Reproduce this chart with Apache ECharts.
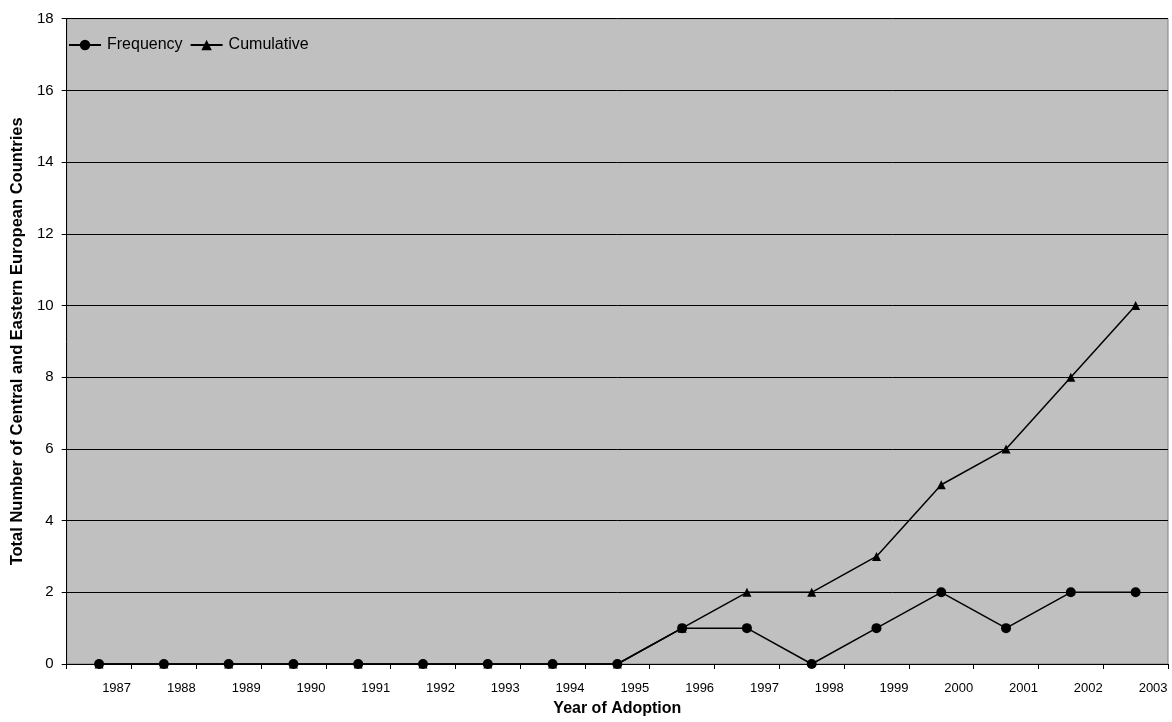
<!DOCTYPE html>
<html>
<head>
<meta charset="utf-8">
<script src="https://cdn.jsdelivr.net/npm/echarts@6/dist/echarts.min.js"></script>
<style>
  html, body { margin: 0; padding: 0; background: #ffffff; }
  #chart { width: 1172px; height: 722px; }
</style>
</head>
<body>
<div id="chart"></div>
<script>
// Adoption years
const years = ['1987', '1988', '1989', '1990', '1991', '1992', '1993', '1994', '1995',
               '1996', '1997', '1998', '1999', '2000', '2001', '2002', '2003'];
// Countries adopting in each year
const frequency = [0, 0, 0, 0, 0, 0, 0, 0, 0, 1, 1, 0, 1, 2, 1, 2, 2];
// Running total of adopting countries
const cumulative = [0, 0, 0, 0, 0, 0, 0, 0, 0, 1, 2, 2, 3, 5, 6, 8, 10];

const FONT = "'Liberation Sans', Arial, sans-serif";

const chart = echarts.init(document.getElementById('chart'), null, { renderer: 'canvas' });

chart.setOption({
  animation: false,
  backgroundColor: '#ffffff',
  textStyle: { fontFamily: FONT, color: '#000' },
  grid: {
    left: 66.7, right: 4, top: 18.7, bottom: 55.3,
    show: true,
    backgroundColor: '#C0C0C0',
    borderColor: '#808080',
    borderWidth: 1
  },
  legend: {
    left: 68,
    top: 37,
    padding: 0,
    itemWidth: 32,
    itemHeight: 13,
    itemGap: 7,
    textStyle: { fontFamily: FONT, fontSize: 16, color: '#000', padding: [0, 0, 0, 1] },
    data: ['Frequency', 'Cumulative']
  },
  xAxis: {
    type: 'category',
    data: years,
    boundaryGap: true,
    name: 'Year of Adoption',
    nameLocation: 'middle',
    nameGap: 45,
    nameTextStyle: { fontFamily: FONT, fontSize: 16, fontWeight: 'bold', color: '#000', verticalAlign: 'middle' },
    axisLine: { show: true, lineStyle: { color: '#000', width: 1 } },
    axisTick: { show: true, alignWithLabel: false, length: 5, lineStyle: { color: '#000' } },
    axisLabel: {
      fontFamily: FONT, fontSize: 13, color: '#000', margin: 18,
      padding: [0, 0, 0, 35]
    },
    splitLine: { show: false }
  },
  yAxis: {
    type: 'value',
    min: 0, max: 18, interval: 2,
    name: 'Total Number of Central and Eastern European Countries',
    nameLocation: 'middle',
    nameGap: 46,
    nameTextStyle: { fontFamily: FONT, fontSize: 16.5, fontWeight: 'bold', color: '#000', verticalAlign: 'middle' },
    axisLine: { show: true, lineStyle: { color: '#000', width: 1 } },
    axisTick: { show: true, length: 5, lineStyle: { color: '#000' } },
    axisLabel: { fontFamily: FONT, fontSize: 15, color: '#000', margin: 13 },
    splitLine: { show: true, lineStyle: { color: '#000', width: 1 } }
  },
  series: [
    {
      name: 'Frequency',
      type: 'line',
      data: frequency,
      symbol: 'circle',
      symbolSize: 10,
      showAllSymbol: true,
      color: '#000',
      lineStyle: { color: '#000', width: 1.5 },
      itemStyle: { color: '#000' }
    },
    {
      name: 'Cumulative',
      type: 'line',
      data: cumulative,
      symbol: 'triangle',
      symbolSize: 9,
      showAllSymbol: true,
      color: '#000',
      lineStyle: { color: '#000', width: 1.5 },
      itemStyle: { color: '#000' }
    }
  ]
});
</script>
</body>
</html>
